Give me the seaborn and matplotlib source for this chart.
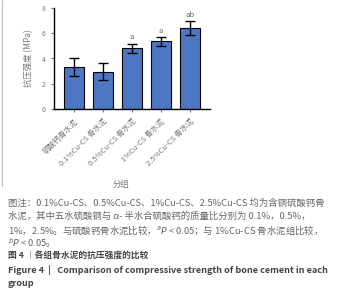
import matplotlib
matplotlib.use("Agg")
import matplotlib.pyplot as plt
import seaborn as sns

# -------------------- DATA --------------------
groups = ["硫酸钙骨水泥", "0.1%Cu-CS 骨水泥", "0.5%Cu-CS 骨水泥", "1%Cu-CS 骨水泥", "2.5%Cu-CS 骨水泥"]
means = [3.35, 2.95, 4.82, 5.35, 6.42]
sds = [0.72, 0.67, 0.35, 0.32, 0.52]
marks = ["", "", "a", "a", "ab"]
yticks = [0, 2, 4, 6, 8]

caption_lines = [
    "图注：0.1%Cu-CS、0.5%Cu-CS、1%Cu-CS、2.5%Cu-CS 均为含铜硫酸钙骨",
    "水泥，其中五水硫酸铜与 α- 半水合硫酸钙的质量比分别为 0.1%，0.5%，",
    "1%，2.5%。与硫酸钙骨水泥比较，$^{a}P$ < 0.05；与 1%Cu-CS 骨水泥组比较，",
    "$^{b}P$ < 0.05。",
]
title_cn = "图 4 ｜各组骨水泥的抗压强度的比较"
title_en = ["Figure 4  |   Comparison of compressive strength of bone cement in each", "group"]

# -------------------- PLOT --------------------
sns.set_style("ticks")
plt.rcParams['font.family'] = ['Noto Sans CJK SC', 'DejaVu Sans']
plt.rcParams['mathtext.fontset'] = 'dejavusans'

fig = plt.figure(figsize=(3.37, 3.0), dpi=100)
ax = fig.add_axes([0.160, 0.637, 0.463, 0.336])

sns.barplot(x=groups, y=means, color="#4d77c4", edgecolor="black", linewidth=0.8,
            width=0.69, saturation=1, ax=ax)
ax.errorbar(x=range(len(groups)), y=means, yerr=sds, fmt='none', ecolor='black',
            elinewidth=1.0, capsize=3.5, capthick=1.0)

for i, (m, s, t) in enumerate(zip(means, sds, marks)):
    if t:
        ax.text(i, m + s + 0.2, t, ha='center', va='bottom', fontsize=5.5, color='#666666')

ax.set_xlim(-0.69, 4.69)
ax.set_ylim(0, 8)
ax.set_yticks(yticks)
ax.tick_params(axis='y', labelsize=5, colors='#777777', length=2.5, width=0.8)
ax.tick_params(axis='x', labelsize=5.5, colors='#777777', length=2, width=0.8, pad=4)
for t in ax.get_yticklines() + ax.get_xticklines():
    t.set_color('black')
ax.set_xticks(range(len(groups)))
ax.set_xticklabels(groups, rotation=45, ha='right', rotation_mode='anchor')
ax.set_ylabel("抗压强度 (MPa)", fontsize=6, color='#777777', labelpad=6)
ax.set_xlabel("分组", fontsize=6, color='#777777')
for side in ['left', 'bottom']:
    ax.spines[side].set_linewidth(1.0)
    ax.spines[side].set_color('black')
sns.despine(ax=ax)
ax.xaxis.set_label_coords(0.43, -0.70)

# left page border
fig.add_artist(plt.Line2D([0.006, 0.006], [0.38, 1.0], color='#bbbbbb', linewidth=0.8))

# caption
y0 = 1 - 203 / 300
step = 13.4 / 300
for k, line in enumerate(caption_lines):
    fig.text(0.024, y0 - k * step, line, fontsize=6.75, color='#666666', va='center', ha='left')
fig.text(0.024, y0 - 4 * step, title_cn, fontsize=6.3, color='#444444', va='center', ha='left',
         fontweight='bold')
fig.text(0.024, y0 - 5 * step, title_en[0], fontsize=6.55, color='#444444', va='center', ha='left',
         fontweight='bold')
fig.text(0.024, y0 - 6 * step, title_en[1], fontsize=6.55, color='#444444', va='center', ha='left',
         fontweight='bold')

fig.savefig("out.png", dpi=100, facecolor='white')
